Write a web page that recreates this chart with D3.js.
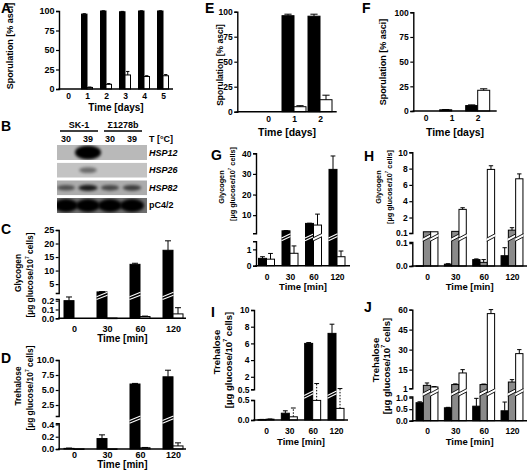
<!DOCTYPE html>
<html><head><meta charset="utf-8">
<script src="https://cdn.jsdelivr.net/npm/d3@7"></script>
<style>
body{margin:0;background:#fff}
svg{display:block}
text{font-family:"Liberation Sans",Arial,sans-serif;fill:#000}
</style></head><body>
<svg id="fig" width="528" height="474"></svg>
<script>
// ---------------- DATA ----------------
const daysA = ["0","1","2","3","4","5"];
const sporA_black = [0, 96, 100, 99, 100, 100];
const sporA_black_err = [0, 0.5, 0.3, 0.5, 0.3, 0.3];
const sporA_white = [0, 2, 6, 18, 16, 17];
const sporA_white_err = [0, 0.5, 1, 4.5, 1, 1.5];

const daysEF = ["0","1","2"];
const sporE_black = [0, 96, 95.5];
const sporE_black_err = [0, 1.5, 2];
const sporE_white = [0, 5, 12];
const sporE_white_err = [0, 1, 4.5];
const sporF_black = [0, 1.2, 5.5];
const sporF_black_err = [0, 0.3, 0.7];
const sporF_white = [0, 0, 21];
const sporF_white_err = [0, 0, 1.5];

const minutes = ["0","30","60","120"];
const glyC_black = [0.2, 2.1, 12.3, 17.5];
const glyC_black_err = [0.03, 0.1, 0.4, 3.5];
const glyC_white = [0, 0.003, 0.02, 0.05];
const glyC_white_err = [0, 0, 0.005, 0.07];

const treD_black = [0.01, 0.17, 6.0, 7.2];
const treD_black_err = [0.005, 0.06, 0.1, 1.1];
const treD_white = [0.003, 0.003, 0.02, 0.05];
const treD_white_err = [0, 0, 0.005, 0.05];

const glyG_black = [0.45, 2.4, 6.0, 32.2];
const glyG_black_err = [0.1, 0.1, 0.1, 6.5];
const glyG_white = [0.4, 0.76, 5.2, 0.55];
const glyG_white_err = [0.35, 0.45, 5.3, 0.35];

const glyH_black = [0.001, 0.008, 0.028, 0.045];
const glyH_black_err = [0, 0.002, 0.003, 0.035];
const glyH_gray = [0.25, 0.3, 0.016, 0.45];
const glyH_gray_err = [0, 0, 0.012, 0.3];
const glyH_white = [0.25, 3.0, 7.9, 6.75];
const glyH_white_err = [0, 0.2, 0.45, 0.6];

const treI_black = [0.01, 0.17, 6.0, 7.2];
const treI_black_err = [0.005, 0.06, 0.1, 1.1];
const treI_white = [0.02, 0.08, 0.49, 0.29];
const treI_white_err = [0.005, 0.22, 0.7, 0.3];

const treJ_black = [0.78, 0.56, 0.63, 0.43];
const treJ_black_err = [0.04, 0.02, 0.34, 0.38];
const treJ_gray = [3.2, 3.8, 3.8, 5.7];
const treJ_gray_err = [1.8, 0.5, 0.4, 1.8];
const treJ_white = [2.0, 12.5, 57, 27];
const treJ_white_err = [0.3, 2.5, 3, 3];

// Northern blot (panel B)
const blotLanesStrain = ["SK-1","SK-1","Σ1278b","Σ1278b"];
const blotLanesTemp = ["30","39","30","39"];
const blotGenes = ["HSP12","HSP26","HSP82","pC4/2"];
const bandHSP12 = [0, 1, 0, 0];
const bandHSP26 = [0, 0.45, 0, 0];
const bandHSP82 = [0.55, 0.85, 0.6, 0.65];
const bandPC4 = [1, 1, 1, 1];

// ---------------- DRAWING ----------------
const svg = d3.select("#fig");
const FONT = '"Liberation Sans",Arial,sans-serif';

function letter(t, x, y){
  svg.append("text").attr("x",x).attr("y",y).attr("font-size",14).attr("font-weight","bold").text(t);
}
function titleSimple(cx, cy, size, txt){
  svg.append("text")
    .attr("transform",`translate(${cx},${cy}) rotate(-90)`)
    .attr("text-anchor","middle").attr("dominant-baseline","central")
    .attr("font-size",size).attr("font-weight","bold").text(txt);
}
function titleUnits(cx, cy, size){
  const t = svg.append("text")
    .attr("transform",`translate(${cx},${cy}) rotate(-90)`)
    .attr("text-anchor","middle").attr("dominant-baseline","central")
    .attr("font-size",size).attr("font-weight","bold");
  t.append("tspan").text("[µg glucose/10");
  t.append("tspan").attr("font-size",size*0.6).attr("dy",-size*0.35).text("7");
  t.append("tspan").attr("dy",size*0.35).text(" cells]");
}

function panel(cfg){
  const g = svg.append("g");
  const x = d3.scalePoint().domain(cfg.cats).range(cfg.centers);
  const ns = cfg.series.length;
  const sub = d3.scaleBand().domain(d3.range(ns)).range([-cfg.barW*ns/2, cfg.barW*ns/2]);
  let yv, y0, brk = null;
  const axes = [];
  if (cfg.lo){
    const lo = d3.scaleLinear().domain(cfg.lo.domain).range(cfg.lo.range);
    const up = d3.scaleLinear().domain(cfg.up.domain).range(cfg.up.range);
    const lowMax = cfg.lo.domain[1];
    yv = v => v <= lowMax ? lo(v) : up(v);
    y0 = lo(0);
    brk = {lowMax, y:(cfg.lo.range[1]+cfg.up.range[0])/2};
    axes.push([lo, cfg.lo.ticks, cfg.lo.fmt],[up, cfg.up.ticks, cfg.up.fmt]);
  } else {
    const s = d3.scaleLinear().domain(cfg.y.domain).range(cfg.y.range);
    yv = s; y0 = s(0);
    axes.push([s, cfg.y.ticks, cfg.y.fmt]);
  }
  cfg.series.forEach((s, si)=>{
    cfg.cats.forEach((c, i)=>{
      const v = s.vals[i], e = s.errs[i];
      if (v <= 0) return;
      const bx = x(c) + sub(si), bw = sub.bandwidth();
      const top = yv(v);
      g.append("rect").attr("x",bx).attr("y",top).attr("width",bw).attr("height",Math.max(0.6,y0-top))
        .attr("fill",s.fill).attr("stroke","#000").attr("stroke-width",1);
      if (e > 0){
        const cx = bx + bw/2, et = yv(v+e);
        const line = g.append("line").attr("x1",cx).attr("x2",cx).attr("y1",top).attr("y2",et)
          .attr("stroke","#000").attr("stroke-width",1);
        if (s.dash) line.attr("stroke-dasharray","1.5,1.5");
        g.append("line").attr("x1",cx-bw*0.3).attr("x2",cx+bw*0.3).attr("y1",et).attr("y2",et)
          .attr("stroke","#000").attr("stroke-width",1);
      }
      if (brk && v > brk.lowMax){
        const by = brk.y, sl = 2.2;
        if (s.fill === "#000"){
          [-1.4, 1.4].forEach(o=>{
            g.append("line").attr("x1",bx-0.5).attr("y1",by+o+sl).attr("x2",bx+bw+0.5).attr("y2",by+o-sl)
              .attr("stroke","#fff").attr("stroke-width",1.1);
          });
        } else {
          g.append("path").attr("d",`M${bx-0.5},${by-1.6+sl}L${bx+bw+0.5},${by-1.6-sl}L${bx+bw+0.5},${by+1.6-sl}L${bx-0.5},${by+1.6+sl}Z`)
            .attr("fill","#fff");
          [-1.6, 1.6].forEach(o=>{
            g.append("line").attr("x1",bx-0.5).attr("y1",by+o+sl).attr("x2",bx+bw+0.5).attr("y2",by+o-sl)
              .attr("stroke","#000").attr("stroke-width",0.9);
          });
        }
      }
    });
  });
  axes.forEach(([sc, ticks, fmt])=>{
    const ax = g.append("g").attr("transform",`translate(${cfg.xl},0)`)
      .call(d3.axisLeft(sc).tickValues(ticks).tickFormat(d3.format(fmt)).tickSizeOuter(0).tickSize(3).tickPadding(1.5));
    ax.select(".domain").attr("stroke-width",1.4);
    ax.selectAll(".tick line").attr("stroke-width",1.2);
    ax.selectAll("text").attr("font-family",FONT).attr("font-size",cfg.tickSize).attr("font-weight","bold");
  });
  g.append("line").attr("x1",cfg.xl-0.7).attr("x2",cfg.xr).attr("y1",y0).attr("y2",y0)
    .attr("stroke","#000").attr("stroke-width",1.4);
  const xa = g.append("g").attr("transform",`translate(0,${cfg.xLabelY})`)
    .call(d3.axisBottom(x).tickSize(0).tickPadding(0));
  xa.select(".domain").remove();
  xa.selectAll("text").attr("font-family",FONT).attr("font-size",cfg.xTickSize||cfg.tickSize).attr("font-weight","bold").attr("dy","0").attr("y",0);
  g.append("text").attr("x",(cfg.xl+cfg.xr)/2 + (cfg.xTitleDx||0)).attr("y",cfg.xTitleY).attr("text-anchor","middle")
    .attr("font-size",cfg.xTitleSize).attr("font-weight","bold").text(cfg.xTitle);
}

// ---- Panel A ----
letter("A", 1, 13);
panel({cats:daysA, centers:[68,163], barW:5.5, xl:59, xr:173,
  y:{domain:[0,100], range:[89,11], ticks:[0,25,50,75,100], fmt:"d"},
  series:[{vals:sporA_black, errs:sporA_black_err, fill:"#000"},{vals:sporA_white, errs:sporA_white_err, fill:"#fff"}],
  tickSize:9, xTickSize:8.5, xLabelY:99, xTitle:"Time [days]", xTitleY:111, xTitleSize:10});
titleSimple(10, 46, 9, "Sporulation [% asci]");

// ---- Panel E ----
letter("E", 205, 13);
panel({cats:daysEF, centers:[268,320], barW:12, xl:237.3, xr:336.7,
  y:{domain:[0,100], range:[111.7,11.7], ticks:[0,25,50,75,100], fmt:"d"},
  series:[{vals:sporE_black, errs:sporE_black_err, fill:"#000"},{vals:sporE_white, errs:sporE_white_err, fill:"#fff"}],
  tickSize:8.5, xLabelY:121.5, xTitle:"Time [days]", xTitleY:135.5, xTitleSize:10.5});
titleSimple(220, 65, 8.5, "Sporulation [% asci]");

// ---- Panel F ----
letter("F", 362, 13);
panel({cats:daysEF, centers:[425.7,477.7], barW:12, xl:413.3, xr:496.7,
  y:{domain:[0,100], range:[111,12.3], ticks:[0,25,50,75,100], fmt:"d"},
  series:[{vals:sporF_black, errs:sporF_black_err, fill:"#000"},{vals:sporF_white, errs:sporF_white_err, fill:"#fff"}],
  tickSize:8.5, xLabelY:121, xTitle:"Time [days]", xTitleY:135.5, xTitleSize:10.5});
titleSimple(383, 62, 9, "Sporulation [% asci]");

// ---- Panel B (blot) ----
letter("B", 1, 131);
(function(){
  const g = svg.append("g");
  const lane = d3.scalePoint().domain(d3.range(4)).range([66,132]);
  const row = d3.scaleBand().domain(blotGenes).range([145,213]).paddingInner(0.15);
  const rowBg = {"HSP12":"#b9b9b9","HSP26":"#c3c3c3","HSP82":"#acacac","pC4/2":"#6e6e6e"};
  const bandSize = {"HSP12":[13,7],"HSP26":[10,3.5],"HSP82":[10,3.2],"pC4/2":[12,6.5]};
  const bands = {"HSP12":bandHSP12,"HSP26":bandHSP26,"HSP82":bandHSP82,"pC4/2":bandPC4};
  const defs = svg.append("defs");
  defs.append("filter").attr("id","blur").attr("x","-50%").attr("y","-50%").attr("width","200%").attr("height","200%")
    .append("feGaussianBlur").attr("stdDeviation",1.6);
  blotGenes.forEach((gn,ri)=>{
    const y = row(gn), h = row.bandwidth();
    defs.append("clipPath").attr("id","clip"+ri).append("rect").attr("x",57).attr("y",y).attr("width",90).attr("height",h);
    const rg = g.append("g").attr("clip-path",`url(#clip${ri})`);
    rg.append("rect").attr("x",57).attr("y",y).attr("width",90).attr("height",h).attr("fill",rowBg[gn]);
    bands[gn].forEach((v,li)=>{
      if (v<=0) return;
      const [rx,ry] = bandSize[gn];
      rg.append("ellipse").attr("cx",lane(li)).attr("cy",y+h/2).attr("rx",rx*(0.8+0.2*v)).attr("ry",ry*(0.7+0.3*v))
        .attr("fill","#000").attr("opacity",v).attr("filter","url(#blur)");
    });
    const lt = g.append("text").attr("x",149).attr("y",y+h/2).attr("dominant-baseline","central")
      .attr("font-size",9).attr("font-weight","bold").text(gn);
    if (gn !== "pC4/2") lt.attr("font-style","italic");
  });
  const strains = [...new Set(blotLanesStrain)];
  strains.forEach(st=>{
    const idx = blotLanesStrain.map((s,i)=>s===st?i:-1).filter(i=>i>=0);
    const x1 = lane(idx[0])-6, x2 = lane(idx[idx.length-1])+10;
    g.append("text").attr("x",(lane(idx[0])+lane(idx[idx.length-1]))/2+2).attr("y",128).attr("text-anchor","middle")
      .attr("font-size",9).attr("font-weight","bold").text(st);
    g.append("line").attr("x1",x1).attr("x2",x2).attr("y1",131).attr("y2",131).attr("stroke","#000").attr("stroke-width",1.3);
  });
  blotLanesTemp.forEach((t,i)=>{
    g.append("text").attr("x",lane(i)).attr("y",141.5).attr("text-anchor","middle")
      .attr("font-size",9).attr("font-weight","bold").text(t);
  });
  g.append("text").attr("x",149).attr("y",141.5).attr("font-size",9).attr("font-weight","bold").text("T [°C]");
})();

// ---- Panel C ----
letter("C", 1, 234);
panel({cats:minutes, centers:[74,173], barW:10, xl:58.7, xr:186,
  lo:{domain:[0,0.22], range:[318.3,298.9], ticks:[0,0.1,0.2], fmt:".1f"},
  up:{domain:[1.7,25], range:[293,230], ticks:[5,10,15,20,25], fmt:"d"},
  series:[{vals:glyC_black, errs:glyC_black_err, fill:"#000"},{vals:glyC_white, errs:glyC_white_err, fill:"#fff"}],
  tickSize:9, xLabelY:331.5, xTitle:"Time [min]", xTitleY:341.5, xTitleSize:10});
titleSimple(18, 273, 8.4, "Glycogen");
titleUnits(30, 275, 8.4);

// ---- Panel D ----
letter("D", 1, 363);
panel({cats:minutes, centers:[74,173], barW:10, xl:58.7, xr:186,
  lo:{domain:[0,0.42], range:[449,423.2], ticks:[0,0.2,0.4], fmt:".1f"},
  up:{domain:[0.67,10], range:[416,360], ticks:[2.5,5,7.5,10], fmt:".1f"},
  series:[{vals:treD_black, errs:treD_black_err, fill:"#000"},{vals:treD_white, errs:treD_white_err, fill:"#fff"}],
  tickSize:9, xLabelY:458, xTitle:"Time [min]", xTitleY:467.5, xTitleSize:10});
titleSimple(18, 386, 8.4, "Trehalose");
titleUnits(30, 388, 8.4);

// ---- Panel G ----
letter("G", 211, 160);
panel({cats:minutes, centers:[266.5,337], barW:8, xl:256, xr:350,
  lo:{domain:[0,1.5], range:[265.7,241.2], ticks:[0,1], fmt:"d"},
  up:{domain:[1.2,40], range:[233.3,153.3], ticks:[10,20,30,40], fmt:"d"},
  series:[{vals:glyG_black, errs:glyG_black_err, fill:"#000"},{vals:glyG_white, errs:glyG_white_err, fill:"#fff"}],
  tickSize:8.5, xLabelY:279.5, xTitle:"Time [min]", xTitleY:289.5, xTitleSize:9.5});
titleSimple(221, 187, 7.3, "Glycogen");
titleUnits(232, 184, 7.3);

// ---- Panel H ----
letter("H", 364, 161);
panel({cats:minutes, centers:[427,512], barW:7.3, xl:412.3, xr:527,
  lo:{domain:[0,0.105], range:[266,242], ticks:[0,0.1], fmt:".1f"},
  up:{domain:[0.1,10], range:[233,152.3], ticks:[0.1,2,4,6,8,10], fmt:"~g"},
  series:[{vals:glyH_black, errs:glyH_black_err, fill:"#000"},{vals:glyH_gray, errs:glyH_gray_err, fill:"#8a8a8a"},{vals:glyH_white, errs:glyH_white_err, fill:"#fff"}],
  tickSize:8.5, xLabelY:279.5, xTitle:"Time [min]", xTitleY:289.5, xTitleSize:9.5});
titleSimple(378, 187, 7.3, "Glycogen");
titleUnits(389, 187, 7.3);

// ---- Panel I ----
letter("I", 211, 317);
panel({cats:minutes, centers:[266,336], barW:8, xl:254, xr:348,
  lo:{domain:[0,0.5], range:[420,400], ticks:[0,0.5], fmt:".1f"},
  up:{domain:[0.5,10], range:[389.3,310], ticks:[0.5,2,4,6,8,10], fmt:"~g"},
  series:[{vals:treI_black, errs:treI_black_err, fill:"#000"},{vals:treI_white, errs:treI_white_err, fill:"#fff", dash:true}],
  tickSize:8.5, xLabelY:433.5, xTitle:"Time [min]", xTitleY:445, xTitleSize:9.5});
titleSimple(216, 352, 9.5, "Trehalose");
titleUnits(228, 360, 9.5);

// ---- Panel J ----
letter("J", 364, 312);
panel({cats:minutes, centers:[427,512], barW:7.3, xl:412.3, xr:527,
  lo:{domain:[0,1.05], range:[420.7,396.5], ticks:[0,0.5,1], fmt:".1f"},
  up:{domain:[1,60], range:[388.3,309.6], ticks:[1,15,30,45,60], fmt:"d"},
  series:[{vals:treJ_black, errs:treJ_black_err, fill:"#000"},{vals:treJ_gray, errs:treJ_gray_err, fill:"#8a8a8a"},{vals:treJ_white, errs:treJ_white_err, fill:"#fff"}],
  tickSize:8.5, xLabelY:433.5, xTitle:"Time [min]", xTitleY:445, xTitleSize:9.5});
titleSimple(375, 360, 9.5, "Trehalose");
titleUnits(386, 366, 9.5);
</script>
</body></html>
